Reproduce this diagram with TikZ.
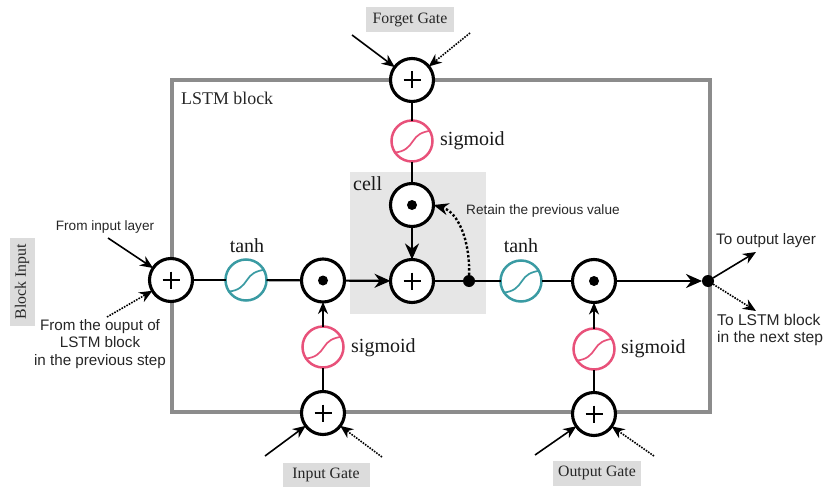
\documentclass[tikz,border=0pt]{standalone}
\usepackage{fontspec}
\setmainfont{Liberation Serif}
\setsansfont{Liberation Sans}
\usetikzlibrary{arrows.meta}
\definecolor{boxgray}{HTML}{8C8C8C}
\definecolor{sigpink}{HTML}{E8517A}
\definecolor{tantel}{HTML}{3A9BA3}
\definecolor{cellbg}{HTML}{E6E6E6}
\definecolor{gatebg}{HTML}{DCDCDC}
\newcommand{\fsz}[1]{\fontsize{#1}{#1}\selectfont}
\tikzset{
  x=1pt,y=-1pt,
  opnode/.style={circle,draw=black,fill=white,line width=3.1pt,minimum size=43pt,inner sep=0pt,outer sep=0pt},
  plusop/.style={opnode,path picture={
    \begin{scope}[shift={(path picture bounding box.center)}]
    \draw[black,line width=1.6pt] (-8.5,0) -- (8.5,0) (0,-8.5) -- (0,8.5);
    \end{scope}}},
  dotop/.style={opnode,path picture={
    \fill[black] (path picture bounding box.center) circle (5pt);}},
  curveop/.style={circle,draw=#1,fill=white,line width=2.5pt,minimum size=41pt,inner sep=0pt,outer sep=0pt,path picture={
    \begin{scope}[shift={(path picture bounding box.center)}]
    \draw[#1,line width=1.7pt] (-17,11.5) .. controls (-7,10.5) and (-3,6) .. (1,0)
      .. controls (5,-6) and (9,-9) .. (20,-10.5);
    \end{scope}}},
  sigop/.style={curveop=sigpink},
  tanop/.style={curveop=tantel},
  jdot/.style={circle,fill=black,minimum size=12pt,inner sep=0pt,outer sep=0pt},
  wire/.style={draw=black,line width=2.2pt},
  flow/.style={wire,-{Stealth[length=16pt,width=14pt]}},
  inarrow/.style={draw=black,line width=1.6pt,-{Stealth[length=13pt,width=11pt]}},
  dotarrow/.style={inarrow,dash pattern=on 1.6pt off 1.2pt},
  sanslabel/.style={font=\sffamily\fsz{13.6},align=center,inner sep=0pt,text=black!85},
  bigserif/.style={font=\fsz{20},inner sep=0pt,text=black!90},
  gatelabel/.style={fill=gatebg,font=\fsz{15.8},inner sep=0pt,minimum height=25pt,text=black!85},
}
\begin{document}
\begin{tikzpicture}
\useasboundingbox (0,0) rectangle (825,487);
\draw[draw=boxgray,line width=4.4pt] (172,80) rectangle (710,412);
\fill[cellbg] (350,172) rectangle (486,314);

\node[gatelabel,minimum width=88pt] (fg) at (410,20) {Forget Gate};
\node[gatelabel,minimum width=87pt] (ig) at (326,475) {Input Gate};
\node[gatelabel,minimum width=88pt] (og) at (597,473) {Output Gate};
\node[gatelabel,rotate=90,minimum width=88pt] (bi) at (22,282) {Block Input};

\node[plusop] (pf) at (412,80) {};
\node[sigop] (sf) at (412,141) {};
\node[dotop] (dc) at (412,205) {};
\node[plusop] (pc) at (412,281) {};
\node[plusop] (pb) at (171,280) {};
\node[tanop] (t1) at (246,280) {};
\node[dotop] (d1) at (323,280.5) {};
\node[sigop] (s1) at (323,347) {};
\node[plusop] (p1) at (323,413) {};
\node[tanop] (t2) at (521,281) {};
\node[dotop] (d2) at (594,281) {};
\node[sigop] (s2) at (594,349) {};
\node[plusop] (p2) at (594,414) {};
\node[jdot] (j) at (469,281) {};
\node[jdot] (o) at (708,281) {};

\draw[wire] (pf) -- (sf);
\draw[wire] (sf) -- (dc);
\draw[flow] (dc) -- (pc);
\draw[wire] (pb) -- (t1);
\draw[wire] (t1) -- (d1);
\draw[flow] (d1) -- (pc);
\draw[wire] (pc) -- (j);
\draw[wire] (j) -- (t2);
\draw[wire] (t2) -- (d2);
\draw[flow] (d2) -- (o);
\draw[wire,line width=1.8pt] (p1) -- (s1);
\draw[wire,line width=1.8pt,-{Stealth[length=12pt,width=10pt]}] (s1) -- (d1);
\draw[wire,line width=1.8pt] (p2) -- (s2);
\draw[wire,line width=1.8pt,-{Stealth[length=12pt,width=10pt]}] (s2) -- (d2);
\draw[draw=black,line width=2.4pt,dash pattern=on 2.4pt off 2pt,-{Stealth[length=15pt,width=12pt]}] (j) .. controls (470,240) and (458,212) .. (dc.east);

\coordinate (a1) at (352,35);
\coordinate (a2) at (470,33);
\coordinate (a3) at (108,238);
\coordinate (a4) at (107,317);
\coordinate (a5) at (265,456);
\coordinate (a6) at (382,457);
\coordinate (a7) at (535,455);
\coordinate (a8) at (654,456);
\coordinate (a9) at (756,252);
\coordinate (a10) at (756,311);
\draw[inarrow] (a1) -- (pf);
\draw[dotarrow] (a2) -- (pf);
\draw[inarrow] (a3) -- (pb);
\draw[dotarrow] (a4) -- (pb);
\draw[inarrow] (a5) -- (p1);
\draw[dotarrow] (a6) -- (p1);
\draw[inarrow] (a7) -- (p2);
\draw[dotarrow] (a8) -- (p2);
\draw[inarrow] (o) -- (a9);
\draw[dotarrow] (o) -- (a10);

\node[font=\fsz{17.9},inner sep=0pt,text=black!85,anchor=west] (lb) at (181,98) {LSTM block};
\node[bigserif,anchor=west] (l1) at (440,141) {sigmoid};
\node[bigserif,anchor=west] (l2) at (351,348) {sigmoid};
\node[bigserif,anchor=west] (l3) at (621,349) {sigmoid};
\node[bigserif] (l4) at (247,246) {tanh};
\node[bigserif] (l5) at (521,246) {tanh};
\node[bigserif,anchor=west] (l6) at (353,184) {cell};
\node[sanslabel,anchor=west] (l7) at (466,211) {Retain the previous value};
\node[sanslabel] (l8) at (105,227) {From input layer};
\node[sanslabel,font=\sffamily\fsz{15.2}] (l9) at (100,344) {From the ouput of\\[2pt]LSTM block\\[2pt]in the previous step};
\node[sanslabel,anchor=west,font=\sffamily\fsz{15.2}] (l10) at (716,241) {To output layer};
\node[sanslabel,anchor=west,align=left,font=\sffamily\fsz{15.6}] (l11) at (717,330) {To LSTM block\\[2pt]in the next step};
\end{tikzpicture}
\end{document}
